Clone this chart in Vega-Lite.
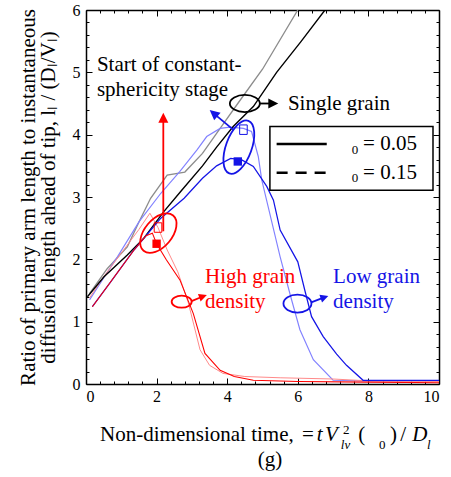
{
  "$schema": "https://vega.github.io/schema/vega-lite/v6.json",
  "width": 353,
  "height": 374,
  "autosize": {"type": "none"},
  "padding": {"left": 86, "top": 10, "right": 12, "bottom": 93},
  "background": "white",
  "config": {
    "view": {"stroke": null},
    "axis": {
      "domainColor": "black", "domainWidth": 1.5, "tickColor": "black", "tickWidth": 1,
      "labelFont": "Liberation Serif", "labelFontSize": 16, "labelColor": "black",
      "titleFont": "Liberation Serif", "titleFontSize": 21, "titleFontWeight": "normal", "titleColor": "black",
      "grid": false, "format": "~g"
    }
  },
  "datasets": {
    "lines": [
      {"s": "single_thin", "x": 0.1, "y": 1.45}, {"s": "single_thin", "x": 0.6, "y": 1.85}, {"s": "single_thin", "x": 1.17, "y": 2.2}, {"s": "single_thin", "x": 1.5, "y": 2.6}, {"s": "single_thin", "x": 1.83, "y": 2.98}, {"s": "single_thin", "x": 2.3, "y": 3.35}, {"s": "single_thin", "x": 2.8, "y": 3.4}, {"s": "single_thin", "x": 3.3, "y": 3.7}, {"s": "single_thin", "x": 3.9, "y": 4.18}, {"s": "single_thin", "x": 4.3, "y": 4.5}, {"s": "single_thin", "x": 5.0, "y": 5.05}, {"s": "single_thin", "x": 6.0, "y": 6.0},
      {"s": "low_thin", "x": 0.1, "y": 1.35}, {"s": "low_thin", "x": 0.5, "y": 1.7}, {"s": "low_thin", "x": 0.89, "y": 2.04}, {"s": "low_thin", "x": 1.5, "y": 2.6}, {"s": "low_thin", "x": 2.12, "y": 3.06}, {"s": "low_thin", "x": 2.66, "y": 3.41}, {"s": "low_thin", "x": 3.15, "y": 3.76}, {"s": "low_thin", "x": 3.42, "y": 3.97}, {"s": "low_thin", "x": 3.8, "y": 4.1}, {"s": "low_thin", "x": 4.08, "y": 4.12}, {"s": "low_thin", "x": 4.46, "y": 4.1}, {"s": "low_thin", "x": 4.69, "y": 4.05}, {"s": "low_thin", "x": 4.88, "y": 3.65}, {"s": "low_thin", "x": 4.98, "y": 3.27}, {"s": "low_thin", "x": 5.5, "y": 2.04}, {"s": "low_thin", "x": 5.8, "y": 1.4}, {"s": "low_thin", "x": 6.06, "y": 0.87}, {"s": "low_thin", "x": 6.44, "y": 0.39}, {"s": "low_thin", "x": 7.0, "y": 0.06}, {"s": "low_thin", "x": 8.0, "y": 0.05}, {"s": "low_thin", "x": 10.0, "y": 0.05},
      {"s": "high_thin", "x": 0.1, "y": 1.38}, {"s": "high_thin", "x": 0.5, "y": 1.72}, {"s": "high_thin", "x": 1.0, "y": 2.1}, {"s": "high_thin", "x": 1.5, "y": 2.48}, {"s": "high_thin", "x": 1.81, "y": 2.74}, {"s": "high_thin", "x": 2.04, "y": 2.51}, {"s": "high_thin", "x": 2.3, "y": 2.15}, {"s": "high_thin", "x": 2.6, "y": 1.8}, {"s": "high_thin", "x": 2.9, "y": 1.3}, {"s": "high_thin", "x": 3.23, "y": 0.55}, {"s": "high_thin", "x": 3.5, "y": 0.3}, {"s": "high_thin", "x": 3.88, "y": 0.17}, {"s": "high_thin", "x": 4.5, "y": 0.12}, {"s": "high_thin", "x": 5.5, "y": 0.1}, {"s": "high_thin", "x": 7.0, "y": 0.08}, {"s": "high_thin", "x": 8.0, "y": 0.05}, {"s": "high_thin", "x": 10.0, "y": 0.04},
      {"s": "single", "x": 0.04, "y": 1.4}, {"s": "single", "x": 0.51, "y": 1.72}, {"s": "single", "x": 1.17, "y": 2.07}, {"s": "single", "x": 1.64, "y": 2.34}, {"s": "single", "x": 2.21, "y": 2.77}, {"s": "single", "x": 2.7, "y": 3.1}, {"s": "single", "x": 3.3, "y": 3.5}, {"s": "single", "x": 3.7, "y": 3.8}, {"s": "single", "x": 4.17, "y": 4.13}, {"s": "single", "x": 4.74, "y": 4.45}, {"s": "single", "x": 5.4, "y": 5.0}, {"s": "single", "x": 6.1, "y": 5.5}, {"s": "single", "x": 6.77, "y": 6.0},
      {"s": "low", "x": 0.18, "y": 1.24}, {"s": "low", "x": 0.7, "y": 1.64}, {"s": "low", "x": 1.36, "y": 2.15}, {"s": "low", "x": 2.12, "y": 2.66}, {"s": "low", "x": 2.78, "y": 2.98}, {"s": "low", "x": 3.3, "y": 3.3}, {"s": "low", "x": 3.7, "y": 3.5}, {"s": "low", "x": 4.1, "y": 3.62}, {"s": "low", "x": 4.4, "y": 3.6}, {"s": "low", "x": 4.74, "y": 3.49}, {"s": "low", "x": 5.12, "y": 3.17}, {"s": "low", "x": 5.31, "y": 2.95}, {"s": "low", "x": 5.5, "y": 2.47}, {"s": "low", "x": 6.0, "y": 1.96}, {"s": "low", "x": 6.2, "y": 1.5}, {"s": "low", "x": 6.39, "y": 1.08}, {"s": "low", "x": 6.72, "y": 0.76}, {"s": "low", "x": 7.1, "y": 0.48}, {"s": "low", "x": 7.38, "y": 0.3}, {"s": "low", "x": 7.85, "y": 0.06}, {"s": "low", "x": 8.5, "y": 0.06}, {"s": "low", "x": 10.0, "y": 0.06},
      {"s": "high", "x": 0.18, "y": 1.24}, {"s": "high", "x": 0.7, "y": 1.64}, {"s": "high", "x": 1.36, "y": 2.15}, {"s": "high", "x": 1.7, "y": 2.38}, {"s": "high", "x": 1.88, "y": 2.42}, {"s": "high", "x": 2.0, "y": 2.25}, {"s": "high", "x": 2.28, "y": 1.99}, {"s": "high", "x": 2.66, "y": 1.67}, {"s": "high", "x": 3.04, "y": 1.13}, {"s": "high", "x": 3.37, "y": 0.49}, {"s": "high", "x": 3.8, "y": 0.22}, {"s": "high", "x": 4.2, "y": 0.12}, {"s": "high", "x": 4.74, "y": 0.06}, {"s": "high", "x": 6.0, "y": 0.04}, {"s": "high", "x": 8.0, "y": 0.03}, {"s": "high", "x": 10.0, "y": 0.02}
    ],
    "marks": [
      {"s": "high", "kind": "filled", "x": 2.0, "y": 2.25},
      {"s": "low", "kind": "filled", "x": 4.3, "y": 3.57},
      {"s": "high", "kind": "open", "x": 2.04, "y": 2.51},
      {"s": "low", "kind": "open", "x": 4.46, "y": 4.08}
    ],
    "ell": [
      {"id": "single", "s": "single", "x": 4.5, "y": 4.5},
      {"id": "lowbig", "s": "low", "x": 4.33, "y": 3.8},
      {"id": "highbig", "s": "high", "x": 2.05, "y": 2.42},
      {"id": "highsmall", "s": "high", "x": 2.71, "y": 1.32},
      {"id": "lowsmall", "s": "low", "x": 5.99, "y": 1.29}
    ],
    "arrows": [
      {"id": "up", "s": "high", "x": 2.19, "y": 2.45, "ex": 2.19, "ey": 4.25},
      {"id": "upleft", "s": "low", "x": 4.17, "y": 4.08, "ex": 3.64, "ey": 4.33},
      {"id": "right", "s": "single", "x": 4.93, "y": 4.5, "ex": 5.27, "ey": 4.5},
      {"id": "slant", "s": "high", "x": 2.99, "y": 1.33, "ex": 3.29, "ey": 1.4},
      {"id": "slant", "s": "low", "x": 6.38, "y": 1.31, "ex": 6.73, "ey": 1.385}
    ],
    "ann": [
      {"t": "Start of constant-", "s": "single", "x": 0.31, "y": 5.12},
      {"t": "sphericity stage", "s": "single", "x": 0.31, "y": 4.72},
      {"t": "Single grain", "s": "single", "x": 5.72, "y": 4.5},
      {"t": "High grain", "s": "high", "x": 3.37, "y": 1.72},
      {"t": "density", "s": "high", "x": 3.37, "y": 1.32},
      {"t": "Low grain", "s": "low", "x": 7.0, "y": 1.72},
      {"t": "density", "s": "low", "x": 7.0, "y": 1.32}
    ],
    "legbox": [{"x": 5.21, "ex": 9.83, "y": 3.11, "ey": 4.13}],
    "legline": [
      {"k": "solid", "x": 5.4, "ex": 6.82, "y": 3.85},
      {"k": "dashed", "x": 5.4, "ex": 6.82, "y": 3.39}
    ],
    "legtext": [
      {"t": "= 0.05", "k": "big", "x": 7.85, "y": 3.85},
      {"t": "= 0.15", "k": "big", "x": 7.85, "y": 3.39},
      {"t": "0", "k": "sub", "x": 7.53, "y": 3.76},
      {"t": "0", "k": "sub", "x": 7.53, "y": 3.3}
    ],
    "xt": [
      {"t": "Non-dimensional time,", "k": "n", "x": 0.4, "y": -0.915},
      {"t": "=", "k": "n", "x": 6.12, "y": -0.915},
      {"t": "t", "k": "i", "x": 6.54, "y": -0.915},
      {"t": "V", "k": "i", "x": 6.77, "y": -0.915},
      {"t": "2", "k": "sn", "x": 7.28, "y": -0.8},
      {"t": "lv", "k": "si", "x": 7.22, "y": -1.04},
      {"t": "(", "k": "n", "x": 7.71, "y": -0.915},
      {"t": "0", "k": "sn", "x": 8.3, "y": -1.04},
      {"t": ")", "k": "n", "x": 8.61, "y": -0.915},
      {"t": "/", "k": "n", "x": 8.9, "y": -0.915},
      {"t": "D", "k": "i", "x": 9.24, "y": -0.915},
      {"t": "l", "k": "si", "x": 9.66, "y": -1.04},
      {"t": "(g)", "k": "c", "x": 5.21, "y": -1.32}
    ]
  },
  "encoding": {
    "x": {"field": "x", "type": "quantitative", "scale": {"domain": [0, 10], "nice": false, "zero": false}, "axis": null},
    "y": {"field": "y", "type": "quantitative", "scale": {"domain": [0, 6], "nice": false, "zero": false}, "axis": null}
  },
  "resolve": {"scale": {"x": "shared", "y": "shared"}, "axis": {"x": "independent", "y": "independent"}},
  "layer": [
    {
      "data": {"name": "lines"},
      "mark": {"type": "line", "clip": true},
      "encoding": {
        "x": {"field": "x", "type": "quantitative", "scale": {"domain": [0, 10], "nice": false, "zero": false},
          "axis": {"orient": "bottom", "title": null, "format": "~g",
            "values": [0, 0.4, 0.8, 1.2, 1.6, 2, 2.4, 2.8, 3.2, 3.6, 4, 4.4, 4.8, 5.2, 5.6, 6, 6.4, 6.8, 7.2, 7.6, 8, 8.4, 8.8, 9.2, 9.6, 10],
            "labelExpr": "datum.value % 2 == 0 ? datum.label : ''",
            "tickSize": {"condition": {"test": "datum.value % 2 == 0", "value": -6}, "value": -3},
            "labelPadding": 10}},
        "y": {"field": "y", "type": "quantitative", "scale": {"domain": [0, 6], "nice": false, "zero": false},
          "axis": {"orient": "left", "format": "~g",
            "title": ["Ratio of primary arm length to instantaneous", "diffusion length ahead of tip, lₗ / (Dₗ/Vₗ)"],
            "titleLineHeight": 20, "titlePadding": 14,
            "values": [0, 0.2, 0.4, 0.6, 0.8, 1, 1.2, 1.4, 1.6, 1.8, 2, 2.2, 2.4, 2.6, 2.8, 3, 3.2, 3.4, 3.6, 3.8, 4, 4.2, 4.4, 4.6, 4.8, 5, 5.2, 5.4, 5.6, 5.8, 6],
            "labelExpr": "datum.value % 1 == 0 ? datum.label : ''",
            "tickSize": {"condition": {"test": "datum.value % 1 == 0", "value": -6}, "value": -3},
            "labelPadding": 12}},
        "color": {"field": "s", "type": "nominal", "legend": null,
          "scale": {"domain": ["single", "single_thin", "low", "low_thin", "high", "high_thin"],
                    "range": ["#000000", "#8c8c8c", "#1414e6", "#8282ff", "#ff0000", "#ff8a8a"]}},
        "strokeWidth": {"field": "s", "type": "nominal", "legend": null,
          "scale": {"domain": ["single", "single_thin", "low", "low_thin", "high", "high_thin"],
                    "range": [1.4, 1, 1.4, 1, 1.4, 1]}}
      }
    },
    {
      "data": {"name": "legbox"},
      "mark": {"type": "rect", "fill": "white", "stroke": "black", "strokeWidth": 1.5},
      "encoding": {
        "x": {"field": "x", "type": "quantitative", "scale": {"domain": [0, 10], "nice": false, "zero": false},
          "axis": {"orient": "top", "title": null, "labels": false,
            "values": [0, 0.4, 0.8, 1.2, 1.6, 2, 2.4, 2.8, 3.2, 3.6, 4, 4.4, 4.8, 5.2, 5.6, 6, 6.4, 6.8, 7.2, 7.6, 8, 8.4, 8.8, 9.2, 9.6, 10],
            "tickSize": {"condition": {"test": "datum.value % 2 == 0", "value": -6}, "value": -3}}},
        "x2": {"field": "ex"},
        "y": {"field": "y", "type": "quantitative", "scale": {"domain": [0, 6], "nice": false, "zero": false},
          "axis": {"orient": "right", "title": null, "labels": false,
            "values": [0, 0.2, 0.4, 0.6, 0.8, 1, 1.2, 1.4, 1.6, 1.8, 2, 2.2, 2.4, 2.6, 2.8, 3, 3.2, 3.4, 3.6, 3.8, 4, 4.2, 4.4, 4.6, 4.8, 5, 5.2, 5.4, 5.6, 5.8, 6],
            "tickSize": {"condition": {"test": "datum.value % 1 == 0", "value": -6}, "value": -3}}},
        "y2": {"field": "ey"}
      }
    },
    {
      "data": {"name": "legline"},
      "transform": [{"filter": "datum.k == 'solid'"}],
      "mark": {"type": "rule", "color": "black", "strokeWidth": 2.5},
      "encoding": {"x2": {"field": "ex"}}
    },
    {
      "data": {"name": "legline"},
      "transform": [{"filter": "datum.k == 'dashed'"}],
      "mark": {"type": "rule", "color": "black", "strokeWidth": 2.5, "strokeDash": [11, 8]},
      "encoding": {"x2": {"field": "ex"}}
    },
    {
      "data": {"name": "legtext"},
      "transform": [{"filter": "datum.k == 'big'"}],
      "mark": {"type": "text", "font": "Liberation Serif", "fontSize": 21, "align": "left", "baseline": "middle", "color": "black"},
      "encoding": {"text": {"field": "t"}}
    },
    {
      "data": {"name": "legtext"},
      "transform": [{"filter": "datum.k == 'sub'"}],
      "mark": {"type": "text", "font": "Liberation Serif", "fontSize": 13, "align": "left", "baseline": "middle", "color": "black"},
      "encoding": {"text": {"field": "t"}}
    },
    {
      "data": {"name": "ell"},
      "transform": [{"filter": "datum.id == 'single'"}],
      "mark": {"type": "point", "filled": false, "strokeWidth": 1.8, "opacity": 1, "size": 900,
        "shape": "M-1,0C-1,-0.315,-0.552,-0.57,0,-0.57C0.552,-0.57,1,-0.315,1,0C1,0.315,0.552,0.57,0,0.57C-0.552,0.57,-1,0.315,-1,0Z"},
      "encoding": {"color": {"field": "s", "type": "nominal", "legend": null}}
    },
    {
      "data": {"name": "ell"},
      "transform": [{"filter": "datum.id == 'lowbig'"}],
      "mark": {"type": "point", "filled": false, "strokeWidth": 1.8, "opacity": 1, "size": 3136, "angle": 110,
        "shape": "M-1,0C-1,-0.254,-0.552,-0.46,0,-0.46C0.552,-0.46,1,-0.254,1,0C1,0.254,0.552,0.46,0,0.46C-0.552,0.46,-1,0.254,-1,0Z"},
      "encoding": {"color": {"field": "s", "type": "nominal", "legend": null}}
    },
    {
      "data": {"name": "ell"},
      "transform": [{"filter": "datum.id == 'highbig'"}],
      "mark": {"type": "point", "filled": false, "strokeWidth": 1.8, "opacity": 1, "size": 2116, "angle": -50,
        "shape": "M-1,0C-1,-0.331,-0.552,-0.6,0,-0.6C0.552,-0.6,1,-0.331,1,0C1,0.331,0.552,0.6,0,0.6C-0.552,0.6,-1,0.331,-1,0Z"},
      "encoding": {"color": {"field": "s", "type": "nominal", "legend": null}}
    },
    {
      "data": {"name": "ell"},
      "transform": [{"filter": "datum.id == 'highsmall'"}],
      "mark": {"type": "point", "filled": false, "strokeWidth": 1.8, "opacity": 1, "size": 400,
        "shape": "M-1,0C-1,-0.331,-0.552,-0.6,0,-0.6C0.552,-0.6,1,-0.331,1,0C1,0.331,0.552,0.6,0,0.6C-0.552,0.6,-1,0.331,-1,0Z"},
      "encoding": {"color": {"field": "s", "type": "nominal", "legend": null}}
    },
    {
      "data": {"name": "ell"},
      "transform": [{"filter": "datum.id == 'lowsmall'"}],
      "mark": {"type": "point", "filled": false, "strokeWidth": 1.8, "opacity": 1, "size": 784,
        "shape": "M-1,0C-1,-0.353,-0.552,-0.64,0,-0.64C0.552,-0.64,1,-0.353,1,0C1,0.353,0.552,0.64,0,0.64C-0.552,0.64,-1,0.353,-1,0Z"},
      "encoding": {"color": {"field": "s", "type": "nominal", "legend": null}}
    },
    {
      "data": {"name": "marks"},
      "transform": [{"filter": "datum.kind == 'filled'"}],
      "mark": {"type": "point", "shape": "square", "filled": true, "opacity": 1, "size": 70},
      "encoding": {"color": {"field": "s", "type": "nominal", "legend": null}}
    },
    {
      "data": {"name": "marks"},
      "transform": [{"filter": "datum.kind == 'open'"}],
      "mark": {"type": "point", "shape": "M-0.8,-1L0.8,-1L0.8,1L-0.8,1Z", "filled": false, "strokeWidth": 1, "opacity": 1, "size": 90},
      "encoding": {"color": {"field": "s", "type": "nominal", "legend": null}}
    },
    {
      "data": {"name": "arrows"},
      "mark": {"type": "rule", "strokeWidth": 1.8},
      "encoding": {
        "x2": {"field": "ex"}, "y2": {"field": "ey"},
        "color": {"field": "s", "type": "nominal", "legend": null}
      }
    },
    {
      "data": {"name": "arrows"},
      "transform": [{"filter": "datum.id == 'up'"}],
      "mark": {"type": "point", "filled": true, "opacity": 1, "size": 156, "shape": "M0,-1L0.8,0.6L-0.8,0.6Z"},
      "encoding": {
        "x": {"field": "ex", "type": "quantitative", "scale": {"domain": [0, 10], "nice": false, "zero": false}, "axis": null},
        "y": {"field": "ey", "type": "quantitative", "scale": {"domain": [0, 6], "nice": false, "zero": false}, "axis": null},
        "color": {"field": "s", "type": "nominal", "legend": null}
      }
    },
    {
      "data": {"name": "arrows"},
      "transform": [{"filter": "datum.id == 'upleft'"}],
      "mark": {"type": "point", "filled": true, "opacity": 1, "size": 156, "angle": -50, "shape": "M0,-1L0.8,0.6L-0.8,0.6Z"},
      "encoding": {
        "x": {"field": "ex", "type": "quantitative", "scale": {"domain": [0, 10], "nice": false, "zero": false}, "axis": null},
        "y": {"field": "ey", "type": "quantitative", "scale": {"domain": [0, 6], "nice": false, "zero": false}, "axis": null},
        "color": {"field": "s", "type": "nominal", "legend": null}
      }
    },
    {
      "data": {"name": "arrows"},
      "transform": [{"filter": "datum.id == 'right'"}],
      "mark": {"type": "point", "filled": true, "opacity": 1, "size": 156, "angle": 90, "shape": "M0,-1L0.8,0.6L-0.8,0.6Z"},
      "encoding": {
        "x": {"field": "ex", "type": "quantitative", "scale": {"domain": [0, 10], "nice": false, "zero": false}, "axis": null},
        "y": {"field": "ey", "type": "quantitative", "scale": {"domain": [0, 6], "nice": false, "zero": false}, "axis": null},
        "color": {"field": "s", "type": "nominal", "legend": null}
      }
    },
    {
      "data": {"name": "arrows"},
      "transform": [{"filter": "datum.id == 'slant'"}],
      "mark": {"type": "point", "filled": true, "opacity": 1, "size": 100, "angle": 71, "shape": "M0,-1L0.8,0.6L-0.8,0.6Z"},
      "encoding": {
        "x": {"field": "ex", "type": "quantitative", "scale": {"domain": [0, 10], "nice": false, "zero": false}, "axis": null},
        "y": {"field": "ey", "type": "quantitative", "scale": {"domain": [0, 6], "nice": false, "zero": false}, "axis": null},
        "color": {"field": "s", "type": "nominal", "legend": null}
      }
    },
    {
      "data": {"name": "ann"},
      "mark": {"type": "text", "font": "Liberation Serif", "fontSize": 21, "align": "left", "baseline": "middle"},
      "encoding": {
        "text": {"field": "t"},
        "color": {"field": "s", "type": "nominal", "legend": null}
      }
    },
    {
      "data": {"name": "xt"},
      "transform": [{"filter": "datum.k == 'n'"}],
      "mark": {"type": "text", "font": "Liberation Serif", "fontSize": 21, "align": "left", "baseline": "alphabetic", "color": "black"},
      "encoding": {"text": {"field": "t"}}
    },
    {
      "data": {"name": "xt"},
      "transform": [{"filter": "datum.k == 'i'"}],
      "mark": {"type": "text", "font": "Liberation Serif", "fontSize": 21, "fontStyle": "italic", "align": "left", "baseline": "alphabetic", "color": "black"},
      "encoding": {"text": {"field": "t"}}
    },
    {
      "data": {"name": "xt"},
      "transform": [{"filter": "datum.k == 'sn'"}],
      "mark": {"type": "text", "font": "Liberation Serif", "fontSize": 13, "align": "left", "baseline": "alphabetic", "color": "black"},
      "encoding": {"text": {"field": "t"}}
    },
    {
      "data": {"name": "xt"},
      "transform": [{"filter": "datum.k == 'si'"}],
      "mark": {"type": "text", "font": "Liberation Serif", "fontSize": 13, "fontStyle": "italic", "align": "left", "baseline": "alphabetic", "color": "black"},
      "encoding": {"text": {"field": "t"}}
    },
    {
      "data": {"name": "xt"},
      "transform": [{"filter": "datum.k == 'c'"}],
      "mark": {"type": "text", "font": "Liberation Serif", "fontSize": 21, "align": "center", "baseline": "alphabetic", "color": "black"},
      "encoding": {"text": {"field": "t"}}
    }
  ]
}
